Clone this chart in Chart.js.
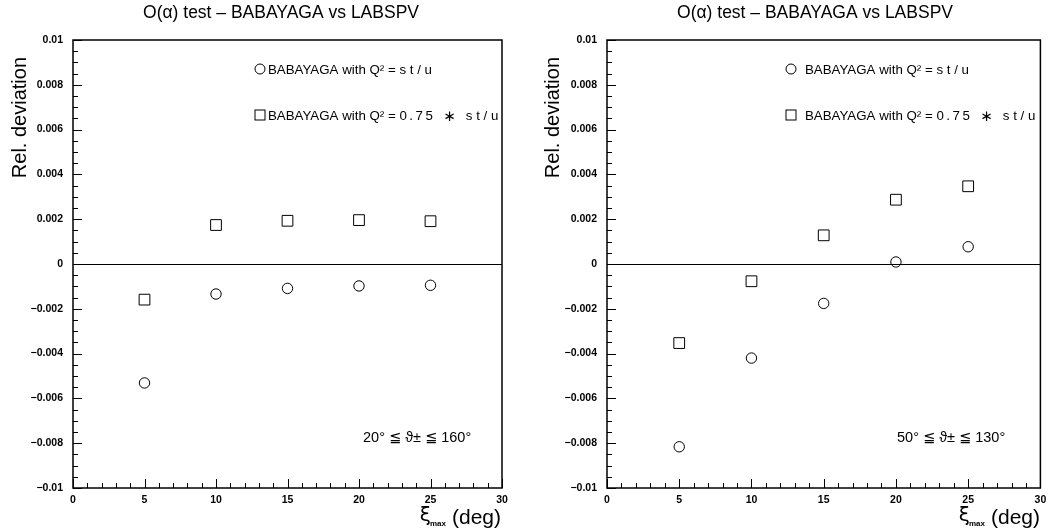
<!DOCTYPE html>
<html>
<head>
<meta charset="utf-8">
<script src="https://cdn.jsdelivr.net/npm/chart.js@4.4.1/dist/chart.umd.min.js"></script>
<style>
  html, body { margin: 0; padding: 0; background: #fff; overflow: hidden; }
  #wrap { position: relative; width: 1049px; height: 531px; overflow: hidden; }
  canvas { position: absolute; top: 0; }
</style>
</head>
<body>
<div id="wrap">
  <canvas id="left" width="525" height="531" style="left:0px"></canvas>
  <canvas id="right" width="519" height="531" style="left:530px"></canvas>
</div>
<script>
// ---- data ----
const xiMax = [5, 10, 15, 20, 25];
const leftCircle  = [-0.00531, -0.00134, -0.00109, -0.00098, -0.00095];
const leftSquare  = [-0.00159,  0.00174,  0.00193,  0.00196,  0.00191];
const rightCircle = [-0.00816, -0.00420, -0.00176,  0.00009,  0.00077];
const rightSquare = [-0.00353, -0.00077,  0.00128,  0.00287,  0.00347];
const titleText = 'O(\u03b1) test \u2013 BABAYAGA vs LABSPV';
const yTitle = 'Rel. deviation';
const legendPrefix = 'BABAYAGA with Q\u00b2 = ';
const legendCircleTail = 's t / u';
const legendSquareFactor = '0.75';
const legendStar = '\u2217';
const leftCut = '20\u00b0 \u2266 \u03d1\u00b1 \u2266 160\u00b0';
const rightCut = '50\u00b0 \u2266 \u03d1\u00b1 \u2266 130\u00b0';
const xMin = 0, xMax = 30, xStep = 5;
const yMin = -0.01, yMax = 0.01, yStep = 0.002;

const FONT = '"Liberation Sans", Arial, "DejaVu Sans", sans-serif';

function pts(xs, ys) { return xs.map((x, i) => ({ x: x, y: ys[i] })); }

function fmtY(v) {
  const r = Math.round(v * 1000) / 1000;
  if (r === 0) return '0';
  return String(r).replace('-', '\u2212');
}

function makeDecor(cfg) {
  return {
    id: 'decor',
    beforeDatasetsDraw(chart) {
      const ctx = chart.ctx, a = chart.chartArea;
      const xs = chart.scales.x, ys = chart.scales.y;
      ctx.save();
      ctx.strokeStyle = '#000';
      ctx.lineWidth = 1;
      ctx.beginPath();
      for (let v = xMin; v <= xMax; v += 1) {
        const px = Math.round(xs.getPixelForValue(v)) + 0.5;
        const len = (v % 5 === 0) ? 9 : 5;
        ctx.moveTo(px, a.bottom);
        ctx.lineTo(px, a.bottom - len);
      }
      for (let k = 0; k <= 40; k++) {
        const v = yMin + k * 0.0005;
        const py = Math.round(ys.getPixelForValue(v)) + 0.5;
        const len = (k % 4 === 0) ? 9 : 5;
        ctx.moveTo(a.left, py);
        ctx.lineTo(a.left + len, py);
      }
      ctx.stroke();
      ctx.lineWidth = 1.5;
      ctx.strokeRect(a.left, a.top, a.right - a.left, a.bottom - a.top);
      ctx.restore();
    },
    afterDraw(chart) {
      const ctx = chart.ctx;
      ctx.save();
      ctx.fillStyle = '#000';
      ctx.strokeStyle = '#000';
      // title
      ctx.font = '17.5px ' + FONT;
      ctx.textAlign = 'center';
      ctx.textBaseline = 'middle';
      ctx.fillText(titleText, cfg.titleX, 13);
      // y title
      ctx.save();
      ctx.translate(cfg.yTitleX, 57);
      ctx.rotate(-Math.PI / 2);
      ctx.font = '20px ' + FONT;
      ctx.textAlign = 'right';
      ctx.textBaseline = 'middle';
      ctx.fillText(yTitle, 0, 0);
      ctx.restore();
      // legend
      ctx.font = '13.3px ' + FONT;
      ctx.textAlign = 'left';
      ctx.textBaseline = 'middle';
      ctx.lineWidth = 1;
      ctx.beginPath();
      ctx.arc(cfg.legMarkX, 69, 5, 0, Math.PI * 2);
      ctx.stroke();
      ctx.strokeRect(cfg.legMarkX - 5, 110, 10, 10);
      const wPre = ctx.measureText(legendPrefix).width;
      ctx.fillText(legendPrefix + legendCircleTail, cfg.legTextX, 70);
      ctx.fillText(legendPrefix, cfg.legTextX, 116);
      let xx = cfg.legTextX + wPre;
      ctx.letterSpacing = '2.5px';
      ctx.fillText(legendSquareFactor, xx, 116);
      xx += ctx.measureText(legendSquareFactor).width;
      ctx.letterSpacing = '0px';
      ctx.font = '15px "DejaVu Sans", sans-serif';
      ctx.fillText(legendStar, xx + 8, 117);
      xx += 8 + ctx.measureText(legendStar).width + 10;
      ctx.font = '13.3px ' + FONT;
      ctx.fillText(legendCircleTail, xx, 116);
      // cut annotation
      ctx.font = '14.5px ' + FONT;
      ctx.fillText(cfg.cut, cfg.cutX, 438);
      // x title
      const right = cfg.xTitleRight;
      ctx.textBaseline = 'alphabetic';
      ctx.font = '21px ' + FONT;
      const wDeg = ctx.measureText('(deg)').width;
      ctx.fillText('(deg)', right - wDeg, 524);
      ctx.font = 'bold 8px ' + FONT;
      const wMax = ctx.measureText('max').width;
      const maxX = right - wDeg - 6 - wMax;
      ctx.fillText('max', maxX, 526);
      ctx.font = '20px "DejaVu Sans", sans-serif';
      const wXi = ctx.measureText('\u03be').width;
      ctx.fillText('\u03be', maxX - wXi + 1, 521);
      ctx.restore();
    }
  };
}

function makeChart(id, circ, sq, cfg) {
  return new Chart(document.getElementById(id), {
    type: 'scatter',
    data: {
      datasets: [
        { data: pts(xiMax, circ), pointStyle: 'circle', pointRadius: 5.2, pointHoverRadius: 5.2,
          borderColor: '#000', backgroundColor: 'rgba(0,0,0,0)', borderWidth: 1 },
        { data: pts(xiMax, sq), pointStyle: 'rect', pointRadius: 7.6, pointHoverRadius: 7.6,
          borderColor: '#000', backgroundColor: 'rgba(0,0,0,0)', borderWidth: 1 }
      ]
    },
    options: {
      responsive: false,
      animation: false,
      devicePixelRatio: 1,
      layout: { padding: { top: 40, right: cfg.padRight, left: 0, bottom: 0 } },
      plugins: { legend: { display: false }, tooltip: { enabled: false }, title: { display: false } },
      scales: {
        x: {
          type: 'linear', min: xMin, max: xMax,
          afterFit(s) { s.height = 43; s.paddingLeft = 0; s.paddingRight = 0; },
          grid: { display: false, drawTicks: false },
          border: { display: false },
          ticks: { stepSize: xStep, color: '#000', padding: 6, maxRotation: 0,
                   font: { family: FONT, size: 10.5, weight: 'bold' } }
        },
        y: {
          type: 'linear', min: yMin, max: yMax,
          afterFit(s) { s.width = cfg.yWidth; s.paddingTop = 0; s.paddingBottom = 0; },
          grid: {
            drawTicks: false,
            lineWidth: 1,
            color: (c) => (c.tick && Math.abs(c.tick.value) < 1e-9) ? '#000' : 'rgba(0,0,0,0)'
          },
          border: { display: false },
          ticks: { stepSize: yStep, color: '#000', padding: 10,
                   callback: (v) => fmtY(v),
                   font: { family: FONT, size: 10.5, weight: 'bold' } }
        }
      }
    },
    plugins: [makeDecor(cfg)]
  });
}

makeChart('left', leftCircle, leftSquare, {
  padRight: 23, yWidth: 73, titleX: 281, yTitleX: 20,
  legMarkX: 260, legTextX: 268, cut: leftCut, cutX: 363, xTitleRight: 501
});
makeChart('right', rightCircle, rightSquare, {
  padRight: 5, yWidth: 77, titleX: 285, yTitleX: 23,
  legMarkX: 261, legTextX: 275, cut: rightCut, cutX: 367, xTitleRight: 510
});
</script>
</body>
</html>
